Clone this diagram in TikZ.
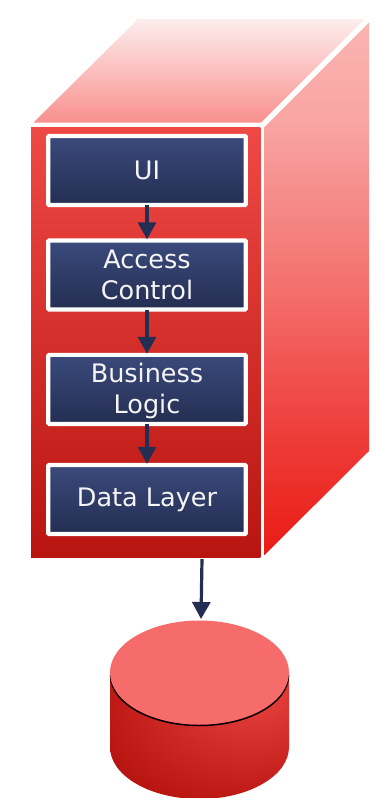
\documentclass[tikz,border=0pt]{standalone}
\usepackage{fontspec}
\setmainfont{DejaVu Sans}
\usetikzlibrary{arrows.meta}
\definecolor{navy}{HTML}{242E52}
\definecolor{navytop}{HTML}{3B4A7C}
\definecolor{cyllight}{HTML}{E03A36}
\definecolor{cylmid}{HTML}{C8221E}
\definecolor{cyldark}{HTML}{B81410}
\definecolor{frontA}{HTML}{EF4945}
\definecolor{topA}{HTML}{FCEEED}
\definecolor{topB}{HTML}{F9908E}
\definecolor{cyltop}{HTML}{F56C6A}
\definecolor{sa}{HTML}{EC1B16}
\definecolor{sb}{HTML}{EC2A25}
\definecolor{sc}{HTML}{EE3C38}
\definecolor{sd}{HTML}{F15553}
\definecolor{se}{HTML}{F4716E}
\definecolor{sf}{HTML}{F58B88}
\definecolor{sg}{HTML}{F9A5A3}
\definecolor{sh}{HTML}{FAB4B2}
\pgfdeclareverticalshading{sideshade}{100bp}{color(0bp)=(sa);color(25bp)=(sa);color(30.15bp)=(sb);color(35.77bp)=(sc);color(43.26bp)=(sd);color(50.28bp)=(se);color(58.24bp)=(sf);color(65.73bp)=(sg);color(75bp)=(sh);color(100bp)=(sh)}
\pgfdeclareradialshading{cylshade}{\pgfpoint{17bp}{18bp}}{color(0bp)=(cyllight);color(8bp)=(cyllight);color(28bp)=(cylmid);color(40bp)=(cyldark);color(100bp)=(cyldark)}
\newcommand{\lowerline}[1]{\raisebox{-1.5pt}[\height][\depth]{#1}}
\tikzset{
  layerbox/.style={draw=white,line width=4.2pt,rounded corners=1pt,top color=navytop,bottom color=navy,
    text=white!96!black,minimum width=197.5pt,minimum height=69.1pt,inner sep=0pt,align=center,
    font=\fontsize{25.5}{31}\selectfont},
  flowarrow/.style={draw=navy,line width=3.2pt,-{Triangle[length=17pt,width=18pt]}},
  frontface/.style={inner sep=0pt,minimum width=229.3pt,minimum height=430.3pt,top color=frontA,bottom color=cyldark},
}
\begin{document}
\begin{tikzpicture}[x=1pt,y=-1pt]
\useasboundingbox (0,0) rectangle (377,798);
% box faces
\shade[top color=topA,bottom color=topB]
  (138,19) -- (364.5,19) -- (261,122.5) -- (33.5,122.5) -- cycle;
\shade[shading=sideshade]
  (369,22.5) -- (369,451) -- (264.5,555) -- (264.5,127) -- cycle;
\node[frontface] (front) at (145.7,342.4) {};
% layers
\node[layerbox] (ui) at (147,170.5) {UI};
\node[layerbox] (access) at (147,275) {Access\\Control};
\node[layerbox] (logic) at (147,389.4) {\lowerline{Business}\\\lowerline{Logic}};
\node[layerbox] (data) at (147,499.5) {Data Layer};
% database
\shade[shading=cylshade] (110,672) -- (110,747) arc[start angle=180,end angle=360,x radius=89.5pt,y radius=52pt] -- (289,672) -- cycle;
\draw[black,line width=1.5pt] (110.5,675) arc[start angle=180,end angle=360,x radius=89pt,y radius=50.5pt];
\fill[color=cyltop] (199.5,672.5) ellipse [x radius=89.5pt,y radius=52pt];
\coordinate (dbtop) at (201,619);
\coordinate (frontout) at (202,559);
% connectors
\draw[flowarrow,shorten <=-2pt,shorten >=-1pt] (ui.south) -- (access.north);
\draw[flowarrow,shorten <=-2pt,shorten >=-1pt] (access.south) -- (logic.north);
\draw[flowarrow,shorten <=-2pt,shorten >=-1pt] (logic.south) -- (data.north);
\draw[flowarrow] (frontout) -- (dbtop);
\end{tikzpicture}
\end{document}
